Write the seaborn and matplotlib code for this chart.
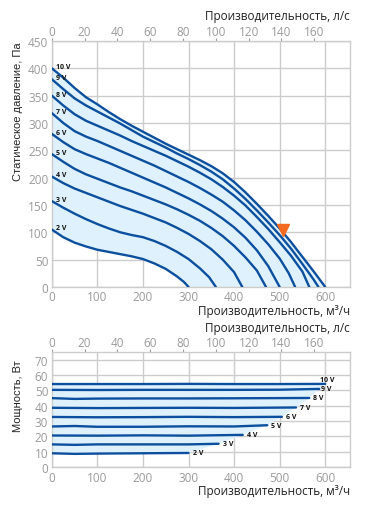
import pandas as pd
import matplotlib
matplotlib.use('Agg')
import matplotlib.pyplot as plt
import seaborn as sns

# Напряжение управления
voltages = ['2 V', '3 V', '4 V', '5 V', '6 V', '7 V', '8 V', '9 V', '10 V']

# Аэродинамические характеристики: расход (м3/ч) и статическое давление (Па)
q_2v = [0, 25, 50, 75, 100, 125, 150, 175, 200, 225, 250, 275, 290, 300]
p_2v = [105, 91, 81, 74, 68, 64, 60, 56, 51, 43, 33, 19, 9, 0]
q_3v = [0, 25, 50, 75, 100, 125, 150, 175, 200, 225, 250, 275, 300, 325, 345, 360]
p_3v = [157, 145, 134, 124, 115, 107, 100, 95, 91, 84, 75, 64, 51, 34, 18, 0]
q_4v = [0, 25, 50, 75, 100, 125, 150, 175, 200, 225, 250, 275, 300, 325, 350, 375, 400, 418]
p_4v = [202, 190, 180, 172, 164, 156, 148, 141, 134, 126, 118, 108, 97, 84, 69, 50, 27, 0]
q_5v = [0, 25, 50, 75, 100, 125, 150, 175, 200, 225, 250, 275, 300, 325, 350, 375, 400, 425, 450, 470]
p_5v = [243, 229, 216, 206, 198, 190, 182, 175, 167, 159, 151, 142, 132, 121, 108, 93, 75, 54, 30, 0]
q_6v = [0, 25, 50, 75, 100, 125, 150, 175, 200, 225, 250, 275, 300, 325, 350, 375, 400, 425, 450, 475, 500]
p_6v = [280, 265, 252, 243, 235, 227, 218, 209, 200, 191, 182, 172, 162, 151, 139, 125, 109, 90, 67, 38, 0]
q_7v = [0, 25, 50, 75, 100, 125, 150, 175, 200, 225, 250, 275, 300, 325, 350, 375, 400, 425, 450, 475, 500, 520, 534]
p_7v = [318, 300, 285, 275, 267, 258, 249, 240, 231, 222, 212, 202, 192, 181, 169, 156, 140, 122, 101, 78, 52, 25, 0]
q_8v = [0, 25, 50, 75, 100, 125, 150, 175, 200, 225, 250, 275, 300, 325, 350, 375, 400, 425, 450, 475, 500, 525, 550, 565]
p_8v = [350, 332, 316, 304, 295, 286, 277, 267, 258, 249, 240, 230, 220, 209, 197, 183, 167, 149, 128, 106, 82, 57, 28, 0]
q_9v = [0, 25, 50, 75, 100, 125, 150, 175, 200, 225, 250, 275, 300, 325, 350, 375, 400, 425, 450, 475, 500, 525, 550, 575, 585]
p_9v = [380, 362, 345, 332, 321, 310, 299, 287, 275, 265, 255, 244, 234, 223, 211, 197, 180, 161, 140, 118, 95, 70, 42, 13, 0]
q_10v = [0, 25, 50, 75, 100, 125, 150, 175, 200, 225, 250, 275, 300, 325, 350, 375, 400, 425, 450, 475, 500, 525, 550, 575, 600]
p_10v = [400, 383, 364, 347, 334, 320, 307, 295, 284, 273, 262, 252, 242, 232, 221, 208, 192, 173, 152, 130, 107, 82, 55, 28, 0]

# Потребляемая мощность (Вт)
w_q_2v = [0, 50, 100, 200, 300]
w_2v = [9, 8.6, 8.8, 9, 9.2]
w_q_3v = [0, 50, 100, 200, 300, 366]
w_3v = [14.8, 14.5, 14.8, 14.8, 14.8, 15.2]
w_q_4v = [0, 100, 200, 300, 419]
w_4v = [20.6, 20.5, 20.7, 20.5, 21]
w_q_5v = [0, 50, 100, 200, 300, 400, 473]
w_5v = [26.5, 26.8, 26.3, 26.3, 26.6, 26.5, 27.3]
w_q_6v = [0, 100, 200, 300, 400, 505]
w_6v = [32.7, 32.5, 32.6, 32.8, 32.6, 32.8]
w_q_7v = [0, 100, 200, 300, 400, 536]
w_7v = [38.7, 38.5, 38.6, 38.7, 38.6, 38.9]
w_q_8v = [0, 50, 100, 200, 300, 400, 565]
w_8v = [45, 44.5, 44.7, 44.8, 44.8, 44.9, 45.1]
w_q_9v = [0, 100, 200, 300, 400, 500, 587]
w_9v = [50.4, 50.3, 50.4, 50.4, 50.4, 50.5, 51]
w_q_10v = [0, 100, 200, 300, 400, 500, 600]
w_10v = [54.2, 54.2, 54.2, 54.3, 54.2, 54.2, 54.3]

# Рабочая точка
point_q = [508]
point_p = [104]

q_lists = [q_2v, q_3v, q_4v, q_5v, q_6v, q_7v, q_8v, q_9v, q_10v]
p_lists = [p_2v, p_3v, p_4v, p_5v, p_6v, p_7v, p_8v, p_9v, p_10v]
wq_lists = [w_q_2v, w_q_3v, w_q_4v, w_q_5v, w_q_6v, w_q_7v, w_q_8v, w_q_9v, w_q_10v]
w_lists = [w_2v, w_3v, w_4v, w_5v, w_6v, w_7v, w_8v, w_9v, w_10v]

rows = []
for v, qs, ps in zip(voltages, q_lists, p_lists):
    for q, p in zip(qs, ps):
        rows.append({'voltage': v, 'q': q, 'p': p})
df_p = pd.DataFrame(rows)

rows = []
for v, qs, ws in zip(voltages, wq_lists, w_lists):
    for q, w in zip(qs, ws):
        rows.append({'voltage': v, 'q': q, 'w': w})
df_w = pd.DataFrame(rows)

sns.set_style('white')
plt.rcParams['font.family'] = ['Open Sans', 'DejaVu Sans']

blue = '#0b4f9e'
fill = '#dff1fc'
grid_c = '#cccccc'
tick_c = '#9a9a9a'
text_c = '#222222'

fig = plt.figure(figsize=(3.73, 5.06), dpi=100)
ax1 = fig.add_axes([0.139, 0.431, 0.800, 0.486])
ax2 = fig.add_axes([0.139, 0.075, 0.800, 0.227])

def style_axis(ax, ylim, yticks, top_label_y, bottom_label_y):
    ax.set_xlim(0, 655)
    ax.set_ylim(*ylim)
    ax.set_xticks(range(0, 700, 100))
    ax.set_yticks(yticks)
    ax.grid(True, color=grid_c, lw=1)
    ax.set_axisbelow(True)
    for s in ax.spines.values():
        s.set_color(grid_c)
        s.set_linewidth(1)
    ax.tick_params(axis='both', colors=tick_c, labelsize=8.5, length=2, width=0.8, pad=0.5)
    top = ax.secondary_xaxis('top', functions=(lambda x: x / 3.6, lambda x: x * 3.6))
    top.set_xticks(range(0, 180, 20))
    top.tick_params(colors=tick_c, labelsize=8.5, length=2, width=0.8, pad=0.5)
    top.spines['top'].set_visible(False)
    top.set_xlabel('Производительность, л/с', loc='right', fontsize=8.5, color=text_c)
    top.xaxis.set_label_coords(1.0, top_label_y, transform=ax.transAxes)
    ax.set_xlabel('Производительность, м³/ч', loc='right', fontsize=8.5, color=text_c)
    ax.xaxis.set_label_coords(1.0, bottom_label_y)

# Верхний график: давление
style_axis(ax1, (0, 450), range(0, 500, 50), 1.09, -0.07)
poly_x = q_10v + [q_2v[-1]] + q_2v[::-1]
poly_y = p_10v + [0] + p_2v[::-1]
ax1.fill(poly_x, poly_y, color=fill, lw=0, zorder=1)
sns.lineplot(data=df_p, x='q', y='p', units='voltage', estimator=None, sort=False,
             color=blue, lw=1.7, ax=ax1, zorder=3)
for v, ps in zip(voltages, p_lists):
    ax1.text(9, ps[0] + 3, v, fontsize=5, fontweight='bold', va='center', ha='left', color='#111111', zorder=4)
ax1.plot(point_q, point_p, marker='v', color='#f26b21', markersize=8, ls='none', zorder=5)
ax1.set_ylabel('Статическое давление, Па', loc='top', fontsize=8, color=text_c, family='Liberation Sans')
ax1.yaxis.set_label_coords(-0.097, 1.0)

# Нижний график: мощность
style_axis(ax2, (0, 75), range(0, 80, 10), 1.185, -0.145)
ends_q = [qs[-1] for qs in wq_lists][::-1]
ends_w = [ws[-1] for ws in w_lists][::-1]
poly_x = w_q_10v + ends_q[1:] + w_q_2v[::-1]
poly_y = w_10v + ends_w[1:] + w_2v[::-1]
ax2.fill(poly_x, poly_y, color=fill, lw=0, zorder=1)
sns.lineplot(data=df_w, x='q', y='w', units='voltage', estimator=None, sort=False,
             color=blue, lw=1.7, ax=ax2, zorder=3)
for v, qs, ws in zip(voltages, wq_lists, w_lists):
    dx, dy = 3, 0
    if v == '10 V':
        dx, dy = -3.5, 3
    elif v == '9 V':
        dx = 1
    ax2.annotate(v, (qs[-1], ws[-1]), xytext=(dx, dy), textcoords='offset points',
                 fontsize=5, fontweight='bold', va='center', ha='left', color='#111111', zorder=4)
ax2.set_ylabel('Мощность, Вт', loc='top', fontsize=8, color=text_c, family='Liberation Sans')
ax2.yaxis.set_label_coords(-0.097, 0.94)

fig.savefig('out.png', dpi=100)
